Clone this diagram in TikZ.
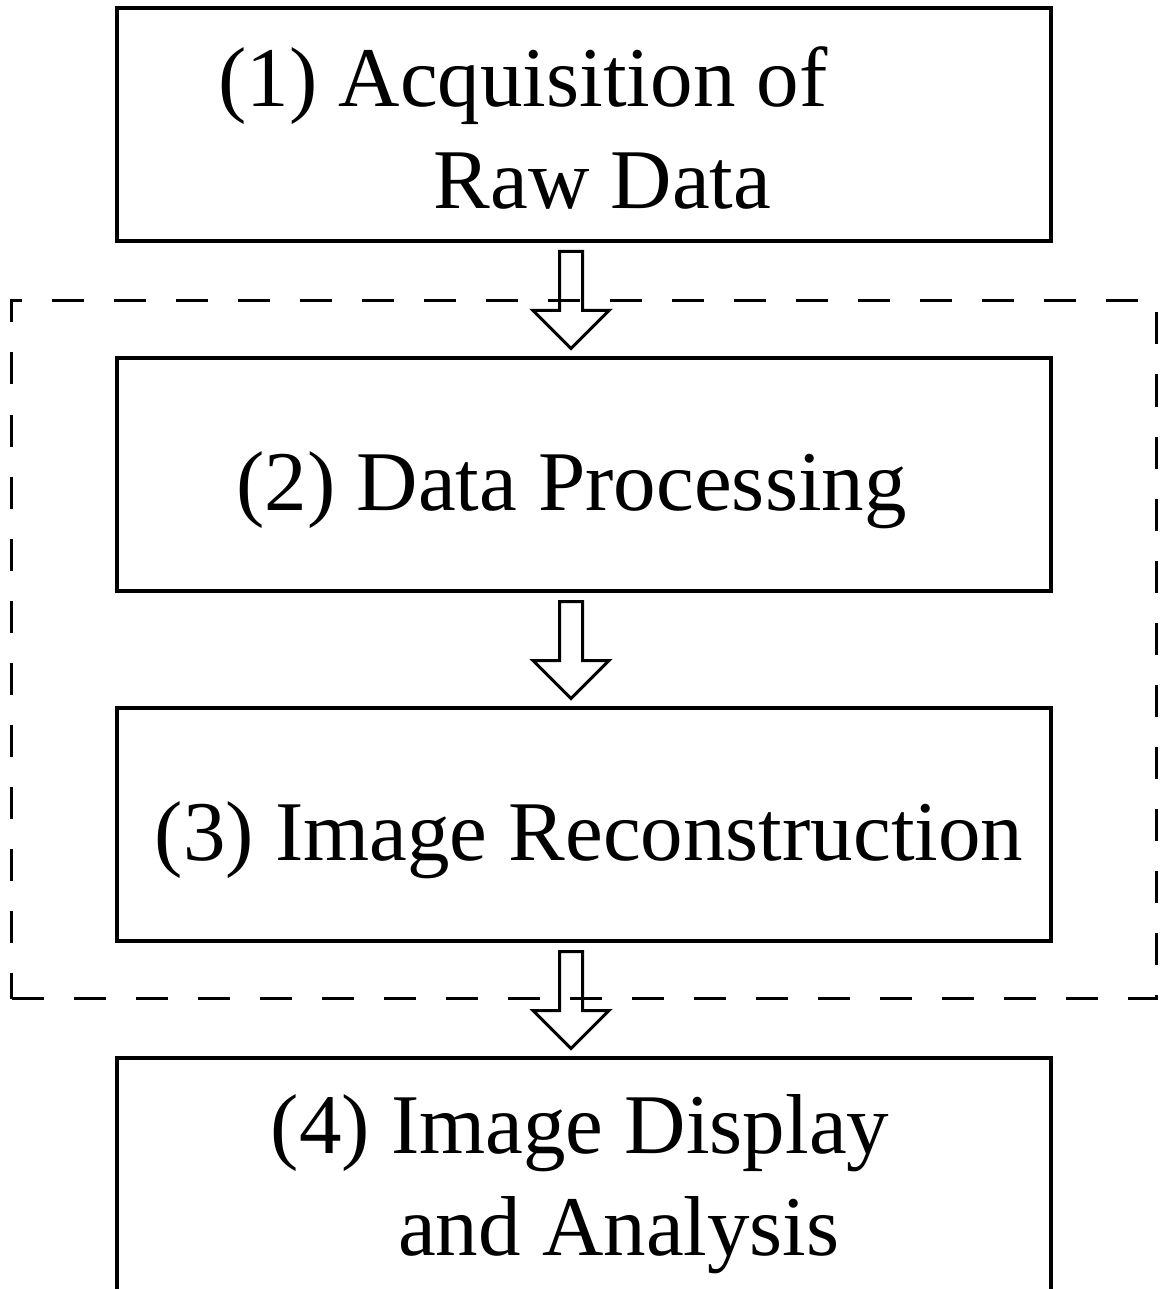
\documentclass[tikz,border=0pt]{standalone}
\usepackage{fontspec}
\setmainfont{Liberation Serif}
\usetikzlibrary{positioning,fit,calc,shapes.arrows}

\tikzset{
  stepbox/.style={draw, line width=1.6pt, outer sep=0pt, inner sep=2pt,
    minimum width=467pt, minimum height=116.5pt, align=center,
    font=\fontsize{42.5pt}{51pt}\selectfont},
  oneline/.style={text height=36pt, text depth=0pt},
  hollowarrow/.style={draw, line width=1.5pt, single arrow, rotate=-90,
    inner xsep=0pt, inner ysep=5pt, minimum height=48.5pt,
    single arrow head extend=13.25pt, single arrow tip angle=90},
  pipeframe/.style={draw, line width=1.5pt, dash pattern=on 16pt off 15pt,
    inner xsep=52.5pt, inner ysep=28.75pt}
}

\begin{document}
\begin{tikzpicture}
  \useasboundingbox (-292pt,62.25pt) rectangle (288pt,-582.25pt);

  % the four steps
  \node[stepbox] (acq) {\rule{0pt}{33.5pt}(1) Acquisition of\hspace*{61pt}\\\hspace*{18.5pt}Raw Data};
  \node[stepbox, oneline, below=58.5pt of acq] (proc) {(2) Data Processing\hspace*{12.5pt}};
  \node[stepbox, oneline, below=58.5pt of proc] (recon) {\hspace*{5pt}(3) Image Reconstruction};
  \node[stepbox, below=58.5pt of recon] (disp) {\rule{0pt}{38.75pt}(4) Image Display\hspace*{4pt}\\\hspace*{35pt}and Analysis};

  % dashed frame round (2) and (3)
  \node[pipeframe, fit=(proc)(recon)] (pipeline) {};

  % hollow arrows between the steps
  \node[hollowarrow, anchor=tail] (a1) at ($(acq.south)+(-6.5pt,-4.5pt)$) {};
  \node[hollowarrow, anchor=tail] (a2) at ($(proc.south)+(-6.5pt,-4.5pt)$) {};
  \node[hollowarrow, anchor=tail] (a3) at ($(recon.south)+(-6.5pt,-4.5pt)$) {};
\end{tikzpicture}
\end{document}
